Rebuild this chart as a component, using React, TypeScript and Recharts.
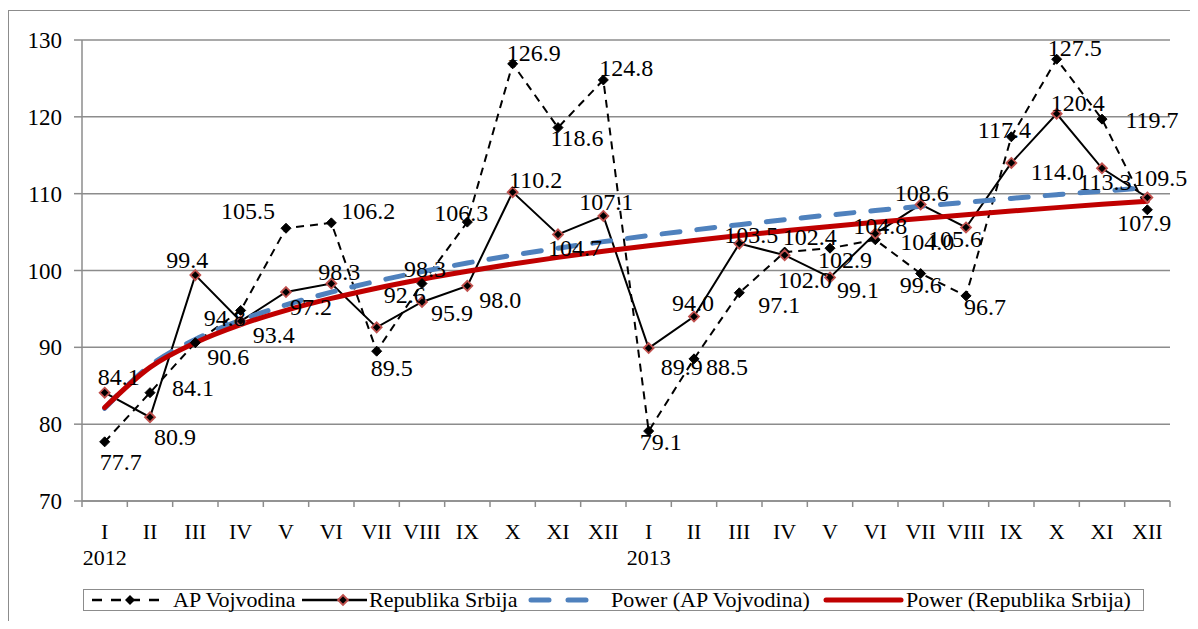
import React from 'react';
import { ComposedChart, Line, XAxis, YAxis, CartesianGrid } from 'recharts';

const months = ['I', 'II', 'III', 'IV', 'V', 'VI', 'VII', 'VIII', 'IX', 'X', 'XI', 'XII', 'I', 'II', 'III', 'IV', 'V', 'VI', 'VII', 'VIII', 'IX', 'X', 'XI', 'XII'];
const years = ['2012', '', '', '', '', '', '', '', '', '', '', '', '2013', '', '', '', '', '', '', '', '', '', '', ''];
const vojvodina = [77.7, 84.1, 90.6, 94.8, 105.5, 106.2, 89.5, 98.3, 106.3, 126.9, 118.6, 124.8, 79.1, 88.5, 97.1, 102.4, 102.9, 104.0, 99.6, 96.7, 117.4, 127.5, 119.7, 107.9];
const srbija = [84.1, 80.9, 99.4, 93.4, 97.2, 98.3, 92.6, 95.9, 98.0, 110.2, 104.7, 107.1, 89.9, 94.0, 103.5, 102.0, 99.1, 104.8, 108.6, 105.6, 114.0, 120.4, 113.3, 109.5];
const yTicks = [70, 80, 90, 100, 110, 120, 130];

// label nudges (relative to the point), kept apart from the values
const vojNudge: [number, number][] = [[16, 20], [43, -5], [33, 14], [-16, 8], [-38, -17], [37, -12], [15, 17], [3, -15], [-6, -9], [21, -11], [19, 10], [23, -12], [12, 11], [33, 8], [40, 12], [25, -15], [15, 12], [52, 2], [0, 11], [19, 11], [-7, -7], [18, -11], [50, 1], [-3, 13]];
const srbNudge: [number, number][] = [[14, -16], [25, 20], [-8, -15], [33, 14], [25, 15], [8, -12], [28, -32], [30, 11], [33, 14], [23, -12], [17, 14], [3, -14], [33, 19], [-1, -14], [12, -9], [20, 25], [28, 13], [5, -8], [1, -11], [-11, 12], [46, 9], [21, -11], [3, 14], [13, -20]];

const FONT = "'Liberation Serif', 'Times New Roman', Times, Tinos, 'Noto Serif', 'DejaVu Serif', FreeSerif, serif";
const GRID = '#8c8c8c';
const CHART_W = 1182;
const CHART_H = 613;
const MARGIN = { top: 32, right: 20, bottom: 0, left: 0 };
const Y_W = 74;
const PLOT_W = CHART_W - MARGIN.left - MARGIN.right - Y_W;
const HALF_BAND = PLOT_W / months.length / 2;

function powerFit(values: number[]): number[] {
  const n = values.length;
  let sx = 0, sy = 0, sxx = 0, sxy = 0;
  values.forEach((v, i) => {
    const lx = Math.log(i + 1);
    const ly = Math.log(v);
    sx += lx; sy += ly; sxx += lx * lx; sxy += lx * ly;
  });
  const b = (n * sxy - sx * sy) / (n * sxx - sx * sx);
  const a = Math.exp((sy - b * sx) / n);
  return values.map((_, i) => a * Math.pow(i + 1, b));
}

const vojPow = powerFit(vojvodina);
const srbPow = powerFit(srbija);

const rows = months.map((m, i) => ({
  idx: i,
  voj: vojvodina[i],
  srb: srbija[i],
  vojPow: vojPow[i],
  srbPow: srbPow[i],
}));

const XTick = (props: any) => {
  const { x, y, payload } = props;
  const i = payload.value as number;
  return (
    <g>
      <line x1={x - HALF_BAND} x2={x - HALF_BAND} y1={y} y2={y + 6} stroke={GRID} strokeWidth={1.5} />
      {i === months.length - 1 && (
        <line x1={x + HALF_BAND} x2={x + HALF_BAND} y1={y} y2={y + 6} stroke={GRID} strokeWidth={1.5} />
      )}
      <text x={x} y={y + 38} textAnchor="middle" style={{ fontFamily: FONT }} fontSize={22} fill="#000">
        {months[i]}
      </text>
      {years[i] && (
        <text x={x} y={y + 64} textAnchor="middle" style={{ fontFamily: FONT }} fontSize={22} fill="#000">
          {years[i]}
        </text>
      )}
    </g>
  );
};

const BlackDiamond = (props: any) => {
  const { cx, cy, index } = props;
  if (cx == null || cy == null) return <g key={`bd-${index}`} />;
  const r = 5;
  return (
    <path
      key={`bd-${index}`}
      d={`M${cx},${cy - r}L${cx + r},${cy}L${cx},${cy + r}L${cx - r},${cy}Z`}
      fill="#000"
      stroke="#000"
      strokeWidth={1}
    />
  );
};

const RedDiamond = (props: any) => {
  const { cx, cy, index } = props;
  if (cx == null || cy == null) return <g key={`rd-${index}`} />;
  const r = 5;
  return (
    <path
      key={`rd-${index}`}
      d={`M${cx},${cy - r}L${cx + r},${cy}L${cx},${cy + r}L${cx - r},${cy}Z`}
      fill="#000"
      stroke="#c0504d"
      strokeWidth={1.8}
    />
  );
};

const makeLabel = (nudges: [number, number][], values: number[]) => (props: any) => {
  const { x, y, index } = props;
  if (x == null || y == null || index == null) return null;
  const [dx, dy] = nudges[index] || [0, -14];
  return (
    <text
      key={`lbl-${index}`}
      x={x + dx}
      y={y + dy}
      textAnchor="middle"
      dominantBaseline="central"
      style={{ fontFamily: FONT }}
      fontSize={24}
      fill="#000"
    >
      {values[index].toFixed(1)}
    </text>
  );
};

const Legend = () => {
  const textStyle: React.CSSProperties = {
    position: 'absolute',
    top: -3,
    fontFamily: FONT,
    fontSize: 22,
    lineHeight: '26px',
    whiteSpace: 'nowrap',
    color: '#000',
  };
  return (
    <div
      style={{
        position: 'absolute',
        left: 75,
        top: 581,
        width: 1059,
        height: 20,
        border: `1.5px solid ${GRID}`,
        background: '#fff',
      }}
    >
      <svg width={1059} height={20} style={{ position: 'absolute', left: 0, top: 0 }}>
        <line x1={8} x2={76} y1={10} y2={10} stroke="#000" strokeWidth={2.5} strokeDasharray="10 9" />
        <path d="M46,5L51,10L46,15L41,10Z" fill="#000" />
        <line x1={218} x2={283} y1={10} y2={10} stroke="#000" strokeWidth={2.5} />
        <path d="M259,5L264,10L259,15L254,10Z" fill="#000" stroke="#c0504d" strokeWidth={1.8} />
        <line x1={447} x2={520} y1={10} y2={10} stroke="#4f81bd" strokeWidth={5} strokeDasharray="18 19" strokeLinecap="round" />
        <line x1={742} x2={817} y1={10} y2={10} stroke="#c00000" strokeWidth={5} strokeLinecap="round" />
      </svg>
      <span style={{ ...textStyle, left: 89 }}>AP Vojvodina</span>
      <span style={{ ...textStyle, left: 285 }}>Republika Srbija</span>
      <span style={{ ...textStyle, left: 527 }}>Power (AP Vojvodina)</span>
      <span style={{ ...textStyle, left: 822 }}>Power (Republika Srbija)</span>
    </div>
  );
};

export default function App() {
  return (
    <div style={{ position: 'relative', width: CHART_W, height: CHART_H, overflow: 'hidden', background: '#fff', fontFamily: FONT }}>
      <div
        style={{
          position: 'absolute',
          left: 0,
          top: 2,
          width: CHART_W + 20,
          height: CHART_H + 20,
          borderLeft: `1.5px solid ${GRID}`,
          borderTop: `1.5px solid ${GRID}`,
        }}
      />
      <ComposedChart width={CHART_W} height={CHART_H} data={rows} margin={MARGIN} style={{ fontFamily: FONT }}>
        <CartesianGrid vertical={false} stroke={GRID} strokeWidth={1.5} />
        <XAxis
          dataKey="idx"
          type="category"
          interval={0}
          padding={{ left: HALF_BAND, right: HALF_BAND }}
          tickSize={0}
          tickMargin={0}
          tickLine={false}
          axisLine={{ stroke: GRID, strokeWidth: 1.5 }}
          height={120}
          tick={<XTick />}
        />
        <YAxis
          domain={[70, 130]}
          ticks={yTicks}
          interval={0}
          width={Y_W}
          tickSize={8}
          tickMargin={12}
          tickLine={{ stroke: GRID, strokeWidth: 1.5 }}
          axisLine={{ stroke: GRID, strokeWidth: 1.5 }}
          tick={{ style: { fontFamily: FONT }, fontSize: 23, fill: '#000' }}
        />
        <YAxis
          yAxisId="r"
          orientation="right"
          domain={[70, 130]}
          width={0}
          tick={false}
          tickLine={false}
          axisLine={{ stroke: GRID, strokeWidth: 1.5 }}
        />
        <Line
          dataKey="voj"
          type="linear"
          stroke="#000"
          strokeWidth={2}
          strokeDasharray="8 6"
          dot={<BlackDiamond />}
          activeDot={false}
          label={makeLabel(vojNudge, vojvodina)}
          isAnimationActive={false}
        />
        <Line
          dataKey="srb"
          type="linear"
          stroke="#000"
          strokeWidth={2}
          dot={<RedDiamond />}
          activeDot={false}
          label={makeLabel(srbNudge, srbija)}
          isAnimationActive={false}
        />
        <Line
          dataKey="vojPow"
          type="monotone"
          stroke="#4f81bd"
          strokeWidth={5}
          strokeDasharray="18 17"
          strokeLinecap="round"
          dot={false}
          activeDot={false}
          isAnimationActive={false}
        />
        <Line
          dataKey="srbPow"
          type="monotone"
          stroke="#c00000"
          strokeWidth={5}
          strokeLinecap="round"
          dot={false}
          activeDot={false}
          isAnimationActive={false}
        />
      </ComposedChart>
      <Legend />
    </div>
  );
}
